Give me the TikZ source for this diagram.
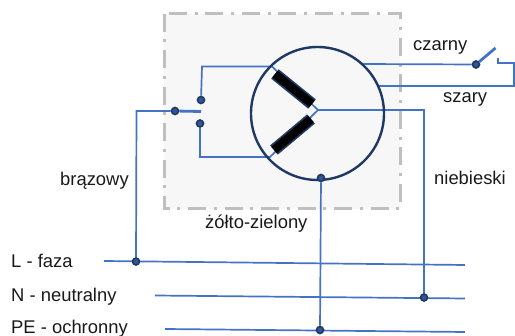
\documentclass[tikz,border=0pt]{standalone}
\usepackage{fontspec}
\setmainfont{Liberation Sans}
\definecolor{wire}{HTML}{4472C4}
\definecolor{navy}{HTML}{1F3864}
\definecolor{boxgray}{HTML}{BFBFBF}
\definecolor{boxfill}{HTML}{F7F7F7}
\pgfdeclarelayer{housinglayer}
\pgfdeclarelayer{wirelayer}
\pgfsetlayers{housinglayer,wirelayer,main}
\tikzset{
  wireline/.style={draw=wire,line width=1.7pt},
  thickwire/.style={draw=wire,line width=2.8pt},
  dot/.style={circle,fill=wire!50!navy,draw=navy,line width=1.6pt,inner sep=0pt,minimum size=7pt},
  lbl/.style={font=\fontsize{18.4}{21}\selectfont,text=black!90,inner sep=0pt,anchor=base west},
  housing/.style={fill=boxfill,draw=boxgray,line width=3pt,dash pattern=on 18pt off 7.5pt on 3pt off 8pt},
  lamp/.style={draw=navy,line width=2.4pt},
  coil/.style={draw=navy,line width=12pt},
  coilin/.style={draw=black,line width=8.5pt}
}
\begin{document}
\begin{tikzpicture}[x=1pt,y=-1pt]
\useasboundingbox (0,0) rectangle (515,336);
\begin{pgfonlayer}{housinglayer}
\draw[housing] (164,14) rectangle (400,209);
\end{pgfonlayer}
% junction points
\coordinate (jL) at (136.5,111);
\coordinate (jTop) at (202,66.5);
\coordinate (jBot) at (200,157);
\coordinate (wTop) at (272,66.5);
\coordinate (wBot) at (270,157);
\coordinate (star) at (318,110);
\coordinate (nCorner) at (424,110);
\coordinate (lS) at (104,261);
\coordinate (lE) at (465,265);
\coordinate (nS) at (155,295.5);
\coordinate (nE) at (465,298.5);
\coordinate (pS) at (165,329);
\coordinate (pE) at (465,332);
\coordinate (blackS) at (362,64);
\coordinate (armE) at (495.5,48);
\coordinate (contA) at (498,58);
\coordinate (contB) at (498,63);
\coordinate (contC) at (514,63);
\coordinate (contD) at (514,86);
\coordinate (greyS) at (378,86);
\coordinate (bladeE) at (201,111.5);
\coordinate (c1a) at (275,74);
\coordinate (c1b) at (312,104);
\coordinate (c2a) at (311,119);
\coordinate (c2b) at (274,150);
% lamp and coils
\node[circle,lamp,inner sep=0pt,minimum size=133pt] (lampc) at (317.5,113.5) {};
\draw[coil] (c1a) -- (c1b);
\draw[coilin] (c1a) -- (c1b);
\draw[coil] (c2a) -- (c2b);
\draw[coilin] (c2a) -- (c2b);
% dots
\node[dot] (dIn) at (175,111) {};
\node[dot] (dUp) at (201,100) {};
\node[dot] (dDn) at (200,123.5) {};
\node[dot] (dPE) at (321,178) {};
\node[dot] (dSw) at (476,64.5) {};
\node[dot] (dL) at (136,261.5) {};
\node[dot] (dN) at (424,297.5) {};
\node[dot] (dP) at (320,330) {};
% connectors, behind the lamp and the dots
\begin{pgfonlayer}{wirelayer}
\draw[wireline] (lS) -- (lE);
\draw[wireline] (nS) -- (nE);
\draw[wireline] (pS) -- (pE);
\draw[wireline] (dL) -- (jL) -- (dIn);
\draw[thickwire] (dIn) -- (bladeE);
\draw[wireline] (dUp) -- (jTop) -- (wTop) -- (star);
\draw[wireline] (dDn) -- (jBot) -- (wBot) -- (star);
\draw[wireline] (star) -- (nCorner) -- (dN);
\draw[wireline] (dPE) -- (dP);
\draw[wireline] (blackS) -- (dSw);
\draw[thickwire] (dSw) -- (armE);
\draw[wireline] (contA) -- (contB) -- (contC) -- (contD) -- (greyS);
\end{pgfonlayer}
% labels
\node[lbl] (tCz) at (413,51) {czarny};
\node[lbl] (tSz) at (443,103) {szary};
\node[lbl] (tBr) at (60,185.5) {brązowy};
\node[lbl] (tNi) at (434,185) {niebieski};
\node[lbl] (tZz) at (205,229) {żółto-zielony};
\node[lbl] (tL) at (11,268) {L - faza};
\node[lbl] (tN) at (11,301.5) {N - neutralny};
\node[lbl] (tP) at (11,334) {PE - ochronny};
\end{tikzpicture}
\end{document}
